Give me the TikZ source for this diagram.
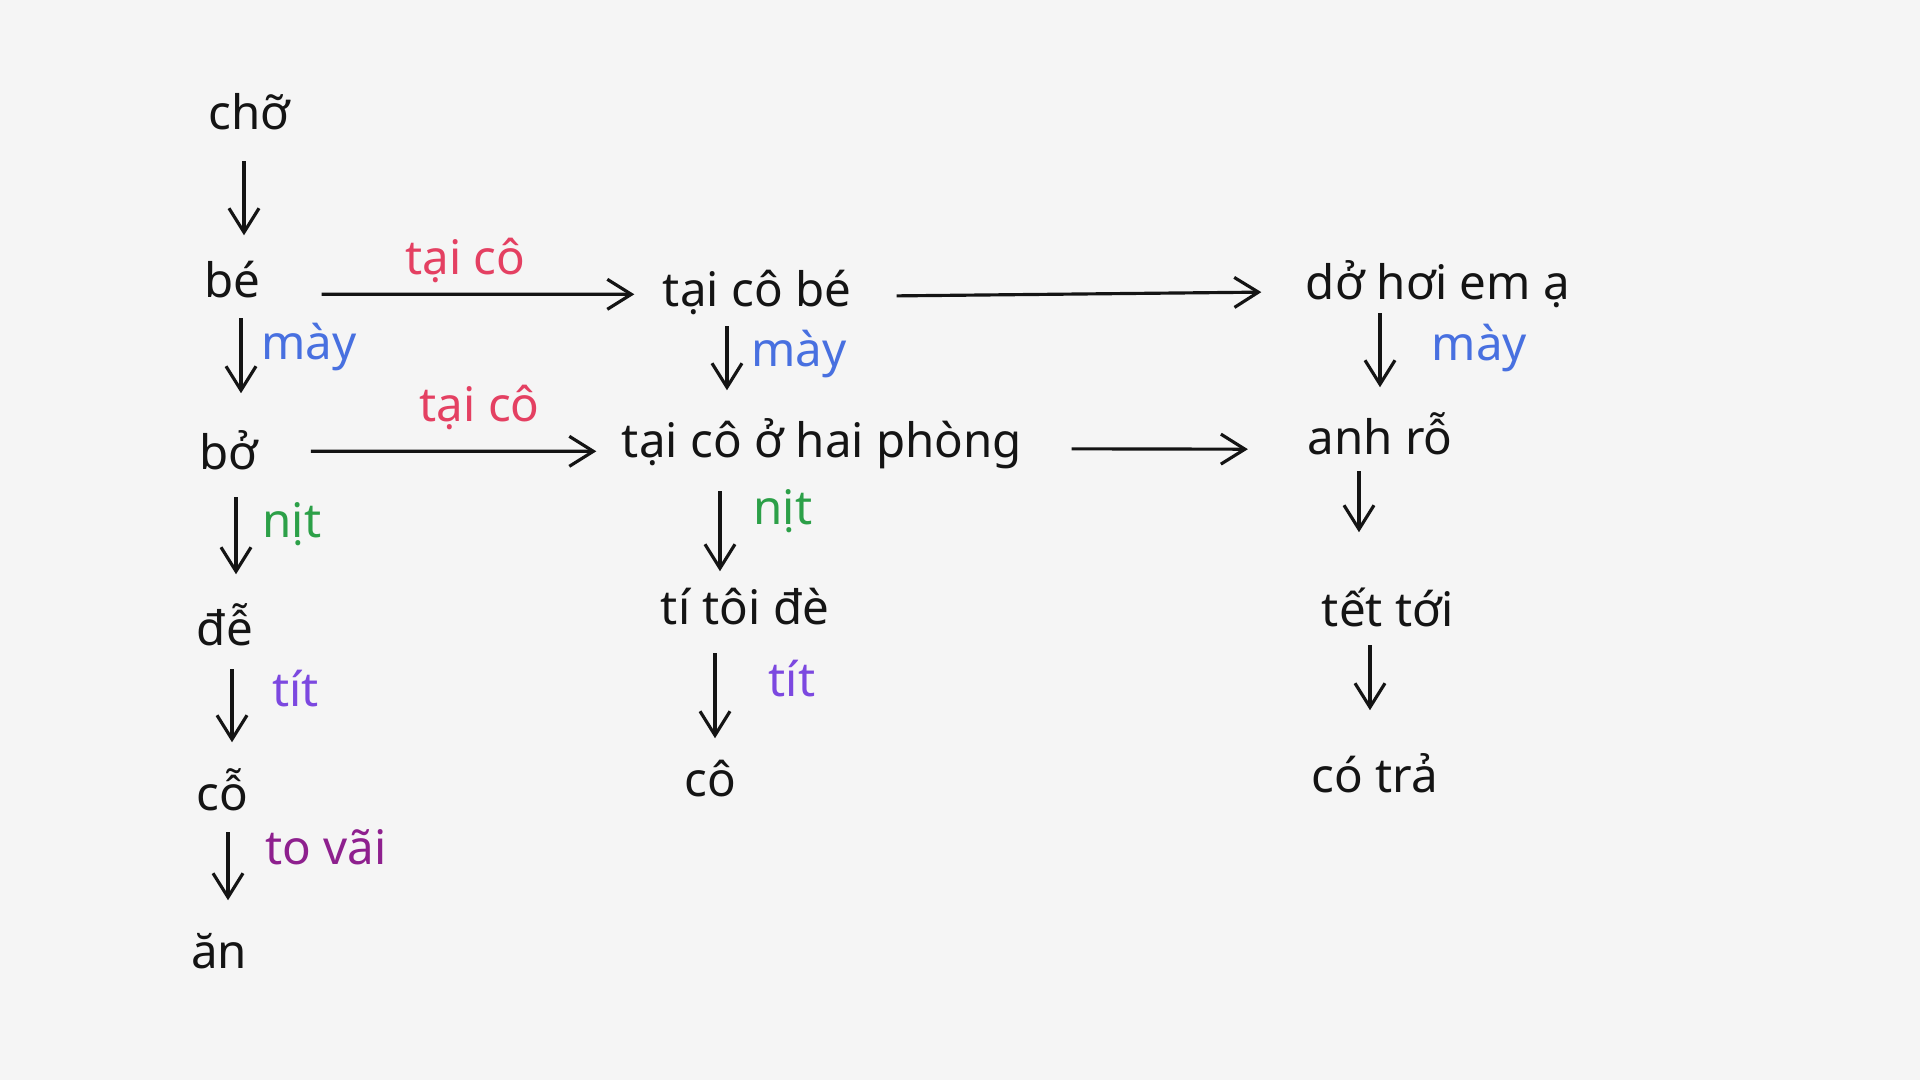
\documentclass[tikz,border=0pt]{standalone}
\usepackage{fontspec}
\setmainfont{Noto Sans}
\usetikzlibrary{positioning}
\usetikzlibrary{arrows.meta}
\definecolor{paper}{RGB}{245,245,245}
\definecolor{ink}{RGB}{20,20,20}
\definecolor{redink}{RGB}{228,64,98}
\definecolor{blueink}{RGB}{72,112,224}
\definecolor{greenink}{RGB}{44,160,72}
\definecolor{violetink}{RGB}{124,72,224}
\definecolor{plumink}{RGB}{142,32,142}
\tikzset{wd/.style={anchor=base,inner sep=0pt,text height=0.8em,text depth=0.25em,font=\fontsize{13.5}{16}\selectfont}}
\tikzset{ed/.style={inner sep=0pt,font=\fontsize{13.5}{16}\selectfont}}
\tikzset{>={Straight Barb[length=2.4mm,width=3mm]}}
\tikzset{dn/.style={->,shorten <=0.12cm,shorten >=0.38cm}}

\begin{document}
\begin{tikzpicture}[x=0.01cm, y=-0.01cm, line width=0.9pt, color=ink]
        \fill[paper] (0,0) rectangle (1920,1080);
        % first column
        \node[wd] (cho) at (249,130) {chỡ};
        \node[wd] (be) at (232,298) {bé};
        \node[wd] (bo) at (229,470) {bở};
        \node[wd] (de) at (225,646) {đễ};
        \node[wd] (co) at (222,811) {cỗ};
        \node[wd] (an) at (219,969) {ăn};
        % second column
        \node[wd] (taicobe) at (757,307) {tại cô bé};
        \node[wd] (taicohp) at (822,458) {tại cô ở hai phòng};
        \node[wd] (titoi) at (745,625) {tí tôi đè};
        \node[wd] (coB) at (710,797) {cô};
        % third column
        \node[wd] (dohoi) at (1438,300) {dở hơi em ạ};
        \node[wd] (anhro) at (1380,455) {anh rỗ};
        \node[wd] (tet) at (1388,627) {tết tới};
        \node[wd] (cotra) at (1375,793) {có trả};

        \draw[dn, shorten <=0.21cm, shorten >=0.33cm] ([xshift=-0.05cm]cho.south) -- ([xshift=-0.05cm]cho.south |- be.north);
        \draw[dn, shorten <=0.1cm, shorten >=0.47cm] ([xshift=0.09cm]be.south) -- node[ed, pos=0.29, right=0.19cm, text=blueink] {mày} ([xshift=0.09cm]be.south |- bo.north);
        \draw[dn, shorten <=0.17cm, shorten >=0.42cm] ([xshift=0.07cm]bo.south) -- node[ed, pos=0.32, right=0.25cm, text=greenink] {nịt} ([xshift=0.07cm]bo.south |- de.north);
        \draw[dn, shorten <=0.13cm, shorten >=0.39cm] ([xshift=0.07cm]de.south) -- node[ed, pos=0.26, right=0.39cm, text=violetink] {tít} ([xshift=0.07cm]de.south |- co.north);
        \draw[dn, shorten <=0.11cm, shorten >=0.39cm] ([xshift=0.06cm]co.south) -- node[ed, pos=0.22, right=0.36cm, text=plumink] {to vãi} ([xshift=0.06cm]co.south |- an.north);

        \draw[dn, shorten <=0.09cm] ([xshift=-0.3cm]taicobe.south) -- node[ed, pos=0.33, right=0.23cm, text=blueink] {mày} ([xshift=-0.3cm]taicobe.south |- taicohp.north);
        \draw[dn, shorten <=0.23cm, shorten >=0.24cm] ([xshift=-0.25cm]titoi.north |- taicohp.south) -- node[ed, pos=0.34, right=0.32cm, text=greenink] {nịt} ([xshift=-0.25cm]titoi.north);
        \draw[dn, shorten <=0.18cm, shorten >=0.29cm] ([xshift=0.05cm]coB.north |- titoi.south) -- node[ed, pos=0.33, right=0.52cm, text=violetink] {tít} ([xshift=0.05cm]coB.north);

        \draw[dn, shorten <=0.03cm] (anhro.north |- dohoi.south) -- node[ed, pos=0.33, right=0.5cm, text=blueink] {mày} (anhro.north);
        \draw[dn, shorten <=0.06cm, shorten >=0.65cm] ([xshift=-0.21cm]anhro.south) -- ([xshift=-0.21cm]anhro.south |- tet.north);
        \draw[dn, shorten <=0.08cm, shorten >=0.53cm] ([xshift=-0.18cm]tet.south) -- ([xshift=-0.18cm]tet.south |- cotra.north);

        \draw[->, shorten <=0.6cm, shorten >=0.27cm] ([yshift=-0.06cm]be.east) -- node[ed, pos=0.51, above=0.1cm, text=redink] {tại cô} ([yshift=0.03cm]taicobe.west);
        \draw[->, shorten <=0.51cm, shorten >=0.24cm] ([yshift=0.09cm]bo.east) -- node[ed, pos=0.61, above=0.2cm, text=redink] {tại cô} ([yshift=-0.03cm]taicohp.west);
        \draw[->, shorten <=0.44cm, shorten >=0.43cm] (taicobe) -- (dohoi);
        \draw[->, shorten <=0.48cm, shorten >=0.58cm] (taicohp) -- ([yshift=-0.04cm]anhro.west);
    \end{tikzpicture}
\end{document}
